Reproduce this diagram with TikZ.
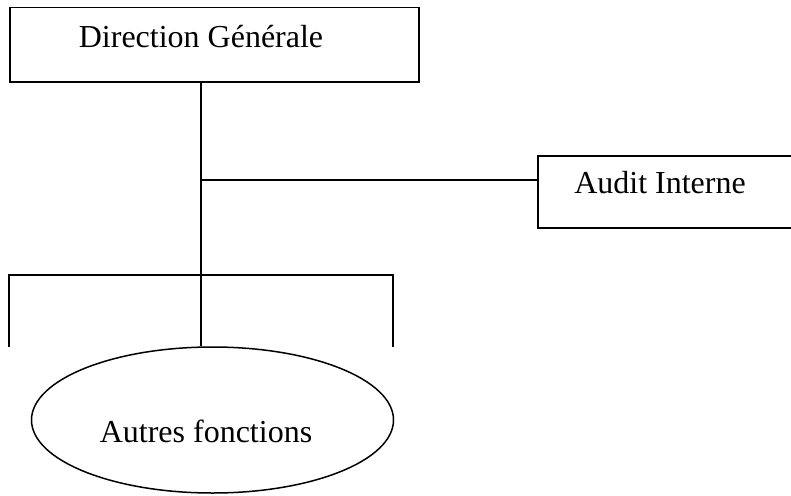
\documentclass[tikz,border=0pt]{standalone}
\usepackage{fontspec}
\setmainfont{Liberation Serif}
\usetikzlibrary{shapes.geometric}
\begin{document}
\begin{tikzpicture}[x=1pt,y=-1pt,
  line/.style={draw=black,line width=1.5pt},
  boxstyle/.style={draw=black,line width=1.5pt,rectangle,inner sep=0pt,anchor=north west},
  lbl/.style={font=\fontsize{32}{38}\selectfont,anchor=base,inner sep=0pt}]
\useasboundingbox (0,0) rectangle (791,495);
\clip (0,0) rectangle (791,495);
% boxes
\node[boxstyle,minimum width=409pt,minimum height=74pt] (dg) at (9,7) {};
\node[lbl] (dgt) at (201,48) {Direction Générale};
\node[boxstyle,minimum width=280pt,minimum height=72pt] (ai) at (537,155) {};
\node[lbl] (ait) at (660,193) {Audit Interne};
\node[draw=black,line width=1.5pt,ellipse,minimum width=362pt,minimum height=146pt,inner sep=0pt] (af) at (212.5,420) {};
\node[lbl] (aft) at (206,442) {Autres fonctions};
% junctions
\coordinate (j1) at (201,180);
\coordinate (j2) at (201,275);
\coordinate (lb) at (9,347);
\coordinate (rb) at (393,347);
% connectors
\draw[line] (dg.south -| j1) -- (af.north -| j1);
\draw[line] (j1) -- (ai.west |- j1);
\draw[line] (lb) |- (j2) -| (rb);
\end{tikzpicture}
\end{document}
